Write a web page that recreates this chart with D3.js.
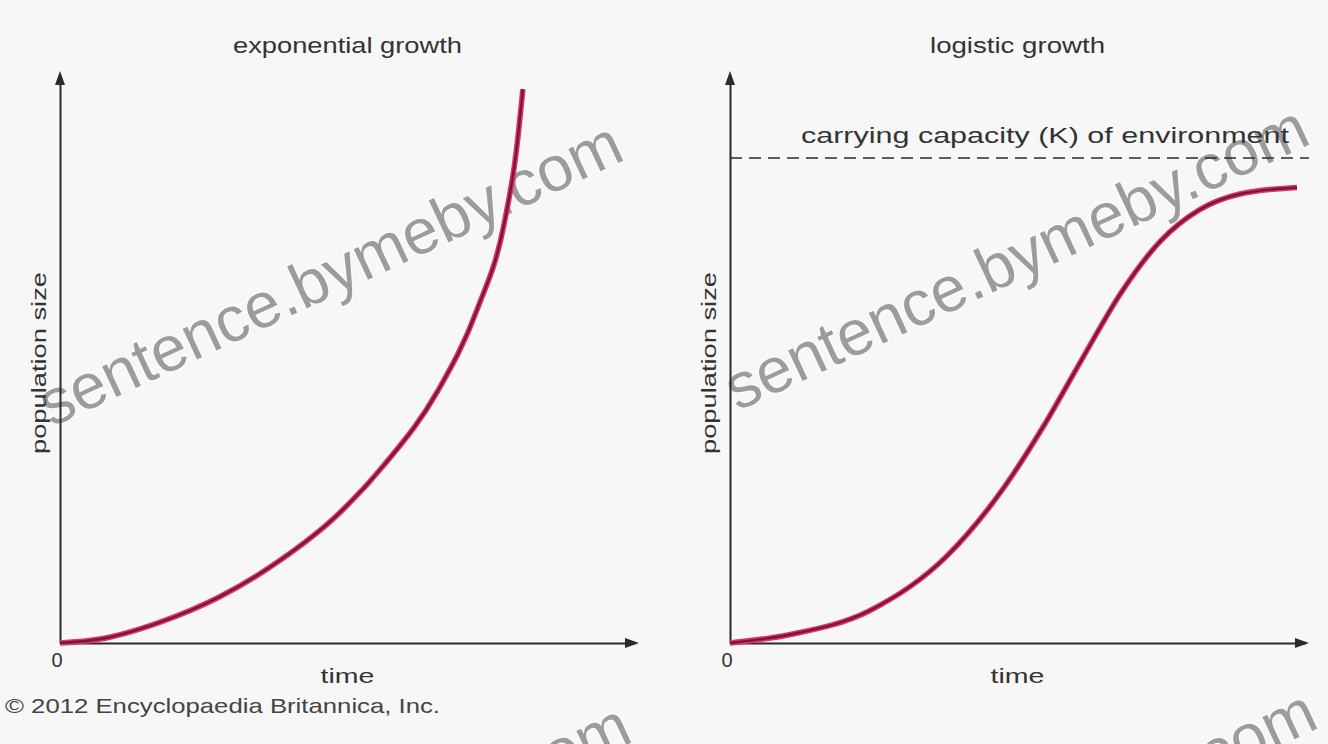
<!DOCTYPE html>
<html>
<head>
<meta charset="utf-8">
<script src="https://cdn.jsdelivr.net/npm/d3@7"></script>
<style>
  html, body { margin: 0; padding: 0; background: #f7f7f7; }
  svg { display: block; font-family: "Liberation Sans", Arial, sans-serif; }
</style>
</head>
<body>
<div id="chart"></div>
<script>
// values (time and population on a 0..100 scale)
const expTime = [0, 7, 17.2, 27.7, 37.9, 48.2, 56.5, 65.6, 72.5, 77.2, 79.3, 80.5];
const expPop = [0, 0.7, 3.6, 8.1, 14.3, 22.5, 31.5, 44.2, 58.6, 73.6, 86.1, 97.5];
const logTime = [0, 10.5, 24.1, 37.6, 47.8, 54.6, 61.4, 68.1, 74.9, 81.7, 88.5, 98.6];
const logPop = [0, 1.5, 5.6, 15.2, 27.6, 38.3, 50.3, 61.8, 70.8, 76.3, 79.0, 80.2];
const carryingCapacity = 85.4;

const panelTitles = ["exponential growth", "logistic growth"];
const xLabel = "time";
const yLabel = "population size";
const kLabel = "carrying capacity (K) of environment";
const credit = "\u00a9 2012 Encyclopaedia Britannica, Inc.";
const watermark = "sentence.bymeby.com";

const W = 1328, H = 744;
const DOMAIN = [0, 100];
const Y_RANGE = [643, 75];
const PANELS = [
  { left: 60, right: 635 },
  { left: 730, right: 1305 },
];
const AXIS_COLOR = "#2b2b2b";
const TEXT_COLOR = "#333";

const svg = d3.select("#chart")
  .append("svg")
  .attr("viewBox", [0, 0, W, H])
  .attr("width", W)
  .attr("height", H);

svg.append("rect").attr("width", W).attr("height", H).attr("fill", "#f7f7f7");

// stretched text, the source art is wider than any local font
function label(g, str, { x, y, size, len, anchor = "middle", fill = TEXT_COLOR, transform }) {
  const t = g.append("text")
    .attr("text-anchor", anchor)
    .attr("font-size", size)
    .attr("fill", fill)
    .attr("lengthAdjust", "spacingAndGlyphs")
    .attr("textLength", len)
    .text(str);
  if (transform) t.attr("transform", transform);
  else t.attr("x", x).attr("y", y);
  return t;
}

const series = [
  expTime.map((t, i) => [t, expPop[i]]),
  logTime.map((t, i) => [t, logPop[i]]),
];
const titleLen = [229, 175];

// watermark (tiled), drawn under the chart lines
const marks = [[332, 278], [1018, 262], [340, 860], [1026, 846]];
svg.append("g")
  .attr("pointer-events", "none")
  .selectAll("text")
  .data(marks)
  .join("text")
  .attr("transform", d => `translate(${d[0]},${d[1]}) rotate(-25)`)
  .attr("text-anchor", "middle")
  .attr("dominant-baseline", "middle")
  .attr("font-size", 64)
  .attr("fill", "#858585")
  .attr("fill-opacity", 0.8)
  .attr("stroke", "#ffffff")
  .attr("stroke-width", 2)
  .attr("stroke-opacity", 0.8)
  .attr("paint-order", "stroke")
  .text(watermark);

PANELS.forEach((p, idx) => {
  const x = d3.scaleLinear().domain(DOMAIN).range([p.left, p.right]);
  const y = d3.scaleLinear().domain(DOMAIN).range(Y_RANGE);
  const g = svg.append("g");
  const cx = (p.left + p.right) / 2 - 2;

  // axes, no ticks
  g.append("g")
    .attr("transform", `translate(0, ${y(0)})`)
    .call(d3.axisBottom(x).ticks(0).tickSizeOuter(0))
    .call(a => a.select(".domain").attr("stroke", AXIS_COLOR).attr("stroke-width", 2));
  g.append("g")
    .attr("transform", `translate(${x(0)}, 0)`)
    .call(d3.axisLeft(y).ticks(0).tickSizeOuter(0))
    .call(a => a.select(".domain").attr("stroke", AXIS_COLOR).attr("stroke-width", 2));

  // arrow heads
  const xt = x(100), yt = y(100), o = y(0), ox = x(0);
  g.append("path")
    .attr("fill", AXIS_COLOR)
    .attr("d", `M${xt + 4},${o} L${xt - 10},${o - 5} L${xt - 10},${o + 5} Z
                M${ox},${yt - 4} L${ox - 5},${yt + 10} L${ox + 5},${yt + 10} Z`);

  // carrying capacity
  if (idx === 1) {
    g.append("line")
      .attr("x1", x(0)).attr("x2", x(100) + 4)
      .attr("y1", y(carryingCapacity)).attr("y2", y(carryingCapacity))
      .attr("stroke", AXIS_COLOR)
      .attr("stroke-width", 1.6)
      .attr("stroke-dasharray", "12,7");
    label(g, kLabel, { x: 1045, y: y(carryingCapacity) - 15, size: 22, len: 488 });
  }

  // curve
  const line = d3.line().x(d => x(d[0])).y(d => y(d[1])).curve(d3.curveMonotoneX);
  g.append("path")
    .datum(series[idx])
    .attr("fill", "none")
    .attr("stroke", "#d8336a")
    .attr("stroke-width", 5.5)
    .attr("d", line);
  g.append("path")
    .datum(series[idx])
    .attr("fill", "none")
    .attr("stroke", "#7c1535")
    .attr("stroke-width", 2.4)
    .attr("d", line);

  // labels
  label(g, panelTitles[idx], { x: cx + 2, y: 53, size: 22, len: titleLen[idx] });
  label(g, xLabel, { x: cx + 2, y: 683, size: 21, len: 54 });
  label(g, yLabel, {
    size: 21, len: 182,
    transform: `translate(${x(0) - 14}, 363) rotate(-90)`,
  });
  g.append("text")
    .attr("x", x(0) - 3).attr("y", 667)
    .attr("text-anchor", "middle")
    .attr("font-size", 20)
    .attr("fill", TEXT_COLOR)
    .text("0");
});

// credit line
label(svg, credit, { x: 5, y: 713, size: 21, len: 435, anchor: "start", fill: "#444" });
</script>
</body>
</html>
